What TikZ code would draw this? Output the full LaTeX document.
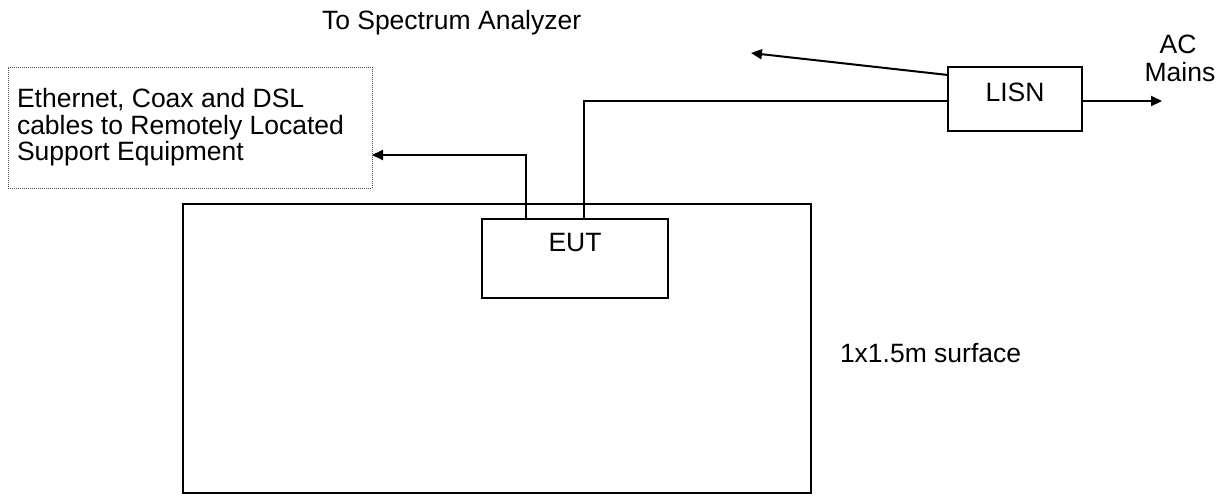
\documentclass[tikz,border=0pt]{standalone}
\usepackage{fontspec}
\setmainfont{Liberation Sans}
\usetikzlibrary{arrows.meta}
\begin{document}
\begin{tikzpicture}[x=1pt,y=-1pt,
  every node/.style={font=\fontsize{26.5}{26.5}\selectfont, inner sep=0pt, outer sep=0pt},
  boxs/.style={draw, line width=2pt, minimum width=#1},
  wire/.style={line width=2pt},
  arr/.style={line width=2pt, -{Triangle[length=11pt,width=10pt]}},
  txt/.style={anchor=base west, align=left}]
\useasboundingbox (0,0) rectangle (1230,496);
% big surface
\node[boxs=628pt, minimum height=289pt] (surface) at (497,348.5) {};
% EUT
\node[boxs=186pt, minimum height=79pt] (eut) at (575,258.5) {};
\node[anchor=base] (eutl) at (575,251) {EUT};
% LISN
\node[boxs=134pt, minimum height=64pt] (lisn) at (1015,99) {};
\node[anchor=base] (lisnl) at (1015,101) {LISN};
% dotted box
\node[draw=black!70, line width=0.8pt, dash pattern=on 1pt off 1pt, minimum width=364pt, minimum height=121pt] (sup) at (190,127.5) {};
\node[txt] (supl1) at (17,107) {Ethernet, Coax and DSL};
\node[txt] (supl2) at (17,134) {cables to Remotely Located};
\node[txt] (supl3) at (17,160) {Support Equipment};
% texts
\node[txt] (spec) at (322,29) {To Spectrum Analyzer};
\node[anchor=base] (ac) at (1178,53) {AC};
\node[anchor=base] (mains) at (1180,81) {Mains};
\node[txt] (surfl) at (840,362) {1x1.5m surface};
% connectors
\coordinate (c1) at (526,155);
\coordinate (c2) at (584,101);
\coordinate (lisnup) at (948,75);
\coordinate (spectip) at (751,53);
\coordinate (actip) at (1162,101);
\draw[arr] (eut.north -| c1) -- (c1) -- (c1 -| sup.east);
\draw[wire] (eut.north -| c2) -- (c2) -- (c2 -| lisn.west);
\draw[arr] (lisnup) -- (spectip);
\draw[arr] (actip -| lisn.east) -- (actip);
\end{tikzpicture}
\end{document}
